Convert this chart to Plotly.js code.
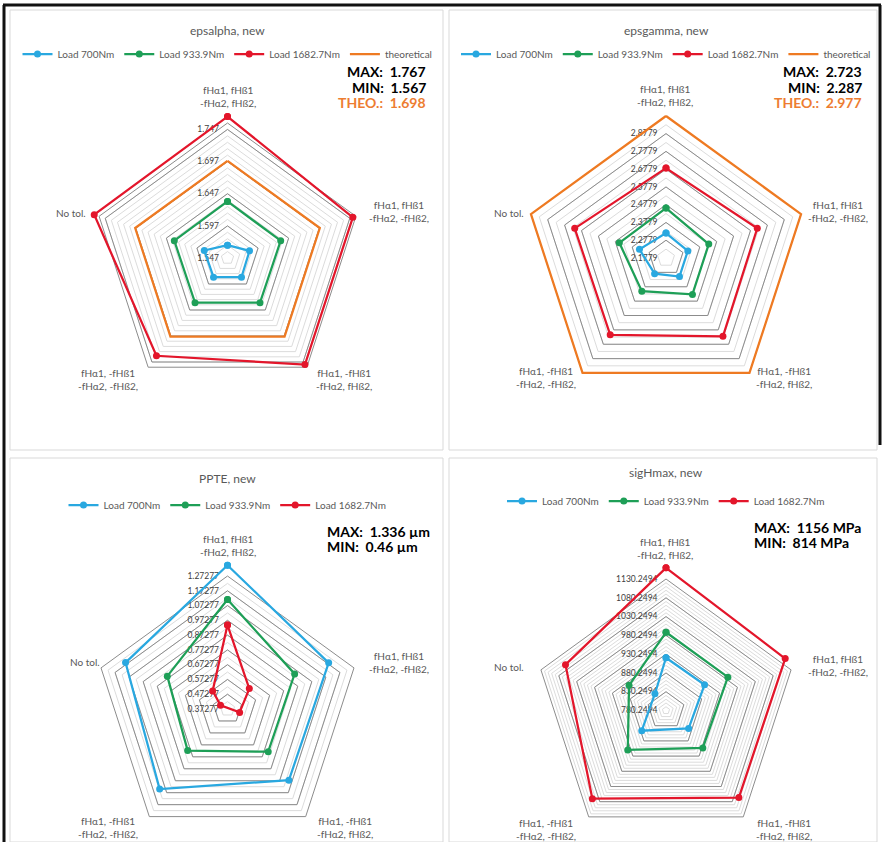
<!DOCTYPE html>
<html><head><meta charset="utf-8">
<script src="https://cdn.plot.ly/plotly-3.0.1.min.js"></script>
<style>html,body{margin:0;padding:0;background:#fff}</style>
</head><body><div id="chart" style="width:883px;height:842px"></div>
<script>
// ---------- data ----------
const categories = ["fHα1, fHß1<br>-fHα2, fHß2,", "fHα1, fHß1<br>-fHα2, -fHß2,", "fHα1, -fHß1<br>-fHα2, fHß2,", "fHα1, -fHß1<br>-fHα2, -fHß2,", "No tol."];
const seriesNames = ["Load 700Nm", "Load 933.9Nm", "Load 1682.7Nm", "theoretical"];
const chartTitles = ["epsalpha, new", "epsgamma, new", "PPTE, new", "sigHmax, new"];

const epsalpha700  = [1.567, 1.583, 1.584, 1.584, 1.585];
const epsalpha934  = [1.635, 1.634, 1.633, 1.633, 1.634];
const epsalpha1683 = [1.767, 1.752, 1.752, 1.735, 1.765];
const epsalphaTheo = [1.698, 1.698, 1.698, 1.698, 1.698];
const epsalphaTicks = [1.547, 1.597, 1.647, 1.697, 1.747];

const epsgamma700  = [2.318, 2.307, 2.307, 2.287, 2.335];
const epsgamma934  = [2.459, 2.431, 2.431, 2.409, 2.454];
const epsgamma1683 = [2.684, 2.718, 2.723, 2.712, 2.718];
const epsgammaTheo = [2.977, 2.977, 2.977, 2.977, 2.977];
const epsgammaTicks = [2.1779, 2.2779, 2.3779, 2.4779, 2.5779, 2.6779, 2.7779, 2.8779];

const ppte700  = [1.336, 1.158, 1.144, 1.225, 1.164];
const ppte934  = [1.083, 0.894, 0.884, 0.873, 0.840];
const ppte1683 = [0.894, 0.542, 0.525, 0.460, 0.488];
const ppteTicks = [0.37277, 0.47277, 0.57277, 0.67277, 0.77277, 0.87277, 0.97277, 1.07277, 1.17277, 1.27277];

const sig700  = [895, 898, 892, 900, 814];
const sig934  = [969, 969, 962, 969, 893];
const sig1683 = [1156, 1144, 1140, 1144, 1087];
const sigTicks = [780.2494, 830.2494, 880.2494, 930.2494, 980.2494, 1030.2494, 1080.2494, 1130.2494];

const statTexts = [
  ["MAX:  1.767", "MIN:  1.567", "THEO.:  1.698"],
  ["MAX:  2.723", "MIN:  2.287", "THEO.:  2.977"],
  ["MAX:  1.336 µm", "MIN:  0.46 µm"],
  ["MAX:  1156 MPa", "MIN:  814 MPa"]
];

// ---------- styling / layout ----------
const W = 883, H = 842;
const colors = ["#29A8E0", "#1E9F57", "#E3162B", "#EE7A22"];
const FONT = "Lato, 'Open Sans', sans-serif";

const panels = [
  {series: [epsalpha700, epsalpha934, epsalpha1683, epsalphaTheo], ticks: epsalphaTicks, dig: 3,
   cx: 227.5, cy: 258, R: 135, range: [1.547, 1.757], minor: 0.01,
   labelPos: [[228, 96], [399, 212], [344, 379], [108, 379], [71, 213]],
   titleY: 30, legendY: 54, stat: {x: 428, y: 72, anchor: "right"}},
  {series: [epsgamma700, epsgamma934, epsgamma1683, epsgammaTheo], ticks: epsgammaTicks, dig: 4,
   cx: 666, cy: 258, R: 142, range: [2.1779, 2.977], minor: 0.05,
   labelPos: [[665, 95], [838, 211], [784, 378], [546, 378], [509, 213]],
   titleY: 30, legendY: 54, stat: {x: 864, y: 72, anchor: "right"}},
  {series: [ppte700, ppte934, ppte1683], ticks: ppteTicks, dig: 5,
   cx: 227.5, cy: 709, R: 133, range: [0.37277, 1.27277], minor: 0.05,
   labelPos: [[228, 545], [399, 662], [345, 827], [108, 827], [85, 662]],
   titleY: 478, legendY: 505, stat: {x: 325, y: 531, anchor: "left"}},
  {series: [sig700, sig934, sig1683], ticks: sigTicks, dig: 4,
   cx: 666, cy: 711, R: 132, range: [780.2494, 1130.2494], minor: 10,
   labelPos: [[665, 548], [838, 665], [784, 829], [546, 829], [509, 667]],
   titleY: 472, legendY: 501, stat: {x: 752, y: 527, anchor: "left"}}
];

const data = [];
const layout = {
  width: W, height: H, margin: {l: 0, r: 0, t: 0, b: 0},
  paper_bgcolor: "#ffffff", font: {family: FONT, color: "#595959"},
  annotations: [], shapes: []
};

function closeLoop(a) { return a.concat([a[0]]); }
function dom(cx, cy, R) {
  return {x: [(cx - R) / W, (cx + R) / W], y: [1 - (cy + R) / H, 1 - (cy - R) / H]};
}
const angBase = {type: "category", categoryarray: categories, rotation: 90, direction: "clockwise",
                 showgrid: false, showticklabels: false, ticks: ""};

panels.forEach((p, i) => {
  const idA = i === 0 ? "polar" : "polar" + (3 * i + 1);
  const idB = "polar" + (3 * i + 2);
  const idC = "polar" + (3 * i + 3);
  const minorVals = [];
  for (let v = p.range[0]; v <= p.range[1] + 1e-9; v += p.minor) minorVals.push(+v.toFixed(6));
  // grid with minor lines
  layout[idA] = {
    domain: dom(p.cx, p.cy, p.R), bgcolor: "#ffffff", gridshape: "linear",
    radialaxis: {range: p.range, tickvals: minorVals, showticklabels: false, ticks: "",
                 gridcolor: "#dcdcdc", gridwidth: 1, showline: false, angle: 90},
    angularaxis: Object.assign({showline: false}, angBase)
  };
  // major grid + radial labels + outer ring
  layout[idB] = {
    domain: dom(p.cx, p.cy, p.R), bgcolor: "rgba(0,0,0,0)", gridshape: "linear",
    radialaxis: {range: p.range, tickvals: p.ticks, ticktext: p.ticks.map(v => v.toFixed(p.dig)),
                 ticks: "outside", ticklen: 5, tickcolor: "rgba(0,0,0,0)",
                 gridcolor: "#8c8c8c", gridwidth: 1, showline: false, angle: 90,
                 tickangle: 90, side: "counterclockwise",
                 tickfont: {size: 8.5, color: "#404040", family: FONT}},
    angularaxis: Object.assign({}, angBase, {showline: true, linecolor: "#8c8c8c", linewidth: 1})
  };
  // invisible anchor traces so the grid subplots are drawn
  [idA, idB].forEach(id => data.push({type: "scatterpolar", subplot: id, r: [p.range[0]], theta: [categories[0]],
    mode: "markers", marker: {opacity: 0}, showlegend: false, hoverinfo: "skip"}));
  // data subplot: same scale, extended range so nothing is clipped
  const f = 1.2;
  const ext = [p.range[0], p.range[0] + (p.range[1] - p.range[0]) * f];
  layout[idC] = {
    domain: dom(p.cx, p.cy, p.R * f), bgcolor: "rgba(0,0,0,0)", gridshape: "linear",
    radialaxis: {range: ext, visible: false, showgrid: false, showline: false, showticklabels: false, ticks: ""},
    angularaxis: Object.assign({showline: false}, angBase)
  };
  const legId = i === 0 ? "legend" : "legend" + (i + 1);
  p.series.forEach((vals, k) => {
    const isTheo = k === 3;
    data.push({
      type: "scatterpolar", subplot: idC, legend: legId,
      r: closeLoop(vals), theta: closeLoop(categories),
      name: seriesNames[k], mode: isTheo ? "lines" : "lines+markers",
      line: {color: colors[k], width: 2.25},
      marker: {color: colors[k], size: 7},
      hoverinfo: "r+theta"
    });
  });
  // category labels
  categories.forEach((c, k) => {
    layout.annotations.push({text: c, xref: "paper", yref: "paper",
      x: p.labelPos[k][0] / W, y: 1 - p.labelPos[k][1] / H, showarrow: false,
      xanchor: "center", yanchor: "middle", align: "center",
      font: {size: 10, color: "#595959", family: FONT}});
  });
  const panelX = p.cx / W;
  layout.annotations.push({text: chartTitles[i], xref: "paper", yref: "paper",
    x: panelX, y: 1 - p.titleY / H, showarrow: false, xanchor: "center", yanchor: "middle",
    font: {size: 12, color: "#595959", family: FONT}});
  layout[legId] = {orientation: "h", x: panelX, xanchor: "center", y: 1 - p.legendY / H,
    yanchor: "middle", bgcolor: "rgba(0,0,0,0)", font: {size: 10, color: "#595959", family: FONT},
    itemwidth: 30, tracegroupgap: 0, itemclick: false};
  statTexts[i].forEach((t, j) => {
    layout.annotations.push({text: "<b>" + t + "</b>", xref: "paper", yref: "paper",
      x: p.stat.x / W, y: 1 - (p.stat.y + j * 15.5) / H, showarrow: false,
      xanchor: p.stat.anchor, yanchor: "middle",
      font: {size: 14, color: j === 2 ? "#ED7D31" : "#000000", family: FONT}});
  });
});

// panel frames and outer border
function px2paper(x0, y0, x1, y1) { return {x0: x0 / W, x1: x1 / W, y0: 1 - y0 / H, y1: 1 - y1 / H}; }
[[10, 10, 443, 450], [449, 10, 877, 450], [10, 458, 443, 842], [449, 458, 877, 842]].forEach(b => {
  layout.shapes.push(Object.assign({type: "rect", xref: "paper", yref: "paper",
    line: {color: "#d9d9d9", width: 1}, layer: "below"}, px2paper(b[0], b[1], b[2], b[3])));
});
const blk = {type: "line", xref: "paper", yref: "paper", line: {color: "#111", width: 3}};
layout.shapes.push(Object.assign({}, blk, px2paper(3, 5, 881, 5)));
layout.shapes.push(Object.assign({}, blk, px2paper(4, 5, 4, 842)));
layout.shapes.push(Object.assign({}, blk, px2paper(880, 5, 880, 445)));

Plotly.newPlot("chart", data, layout, {displayModeBar: false, staticPlot: true});
</script></body></html>
